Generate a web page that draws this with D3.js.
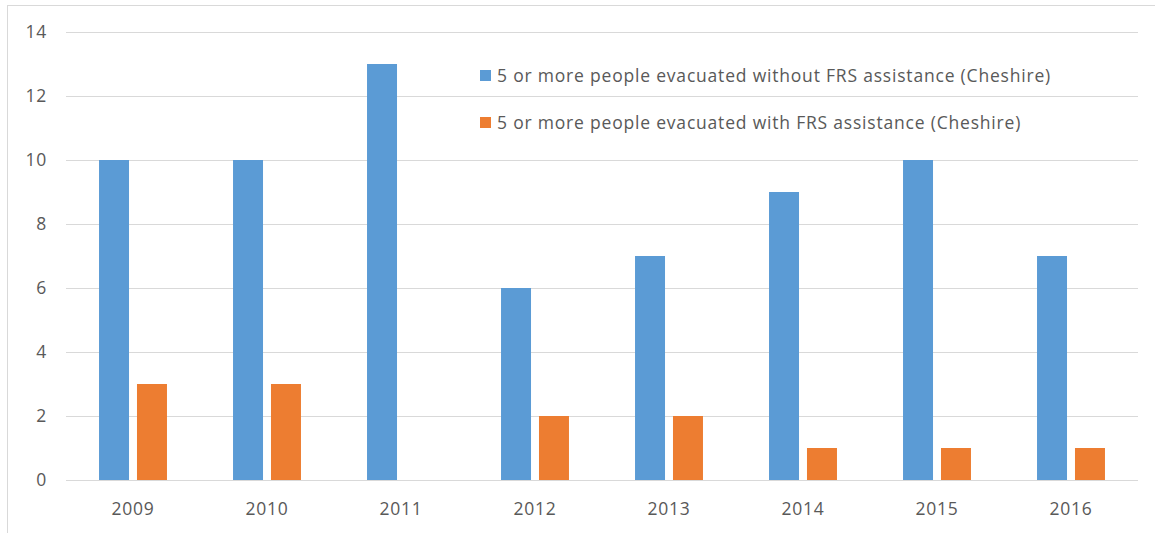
<!DOCTYPE html>
<html>
<head>
<meta charset="utf-8">
<script src="https://cdn.jsdelivr.net/npm/d3@7"></script>
<style>
  body { margin: 0; background: #fff; }
  svg text { font-family: "Open Sans", "Noto Sans", sans-serif; fill: #595959; letter-spacing: 0.8px; }
</style>
</head>
<body>
<svg id="canvas"></svg>
<script>
// Chart data
const years = ["2009", "2010", "2011", "2012", "2013", "2014", "2015", "2016"];
const seriesNames = [
  "5 or more people evacuated without FRS assistance (Cheshire)",
  "5 or more people evacuated with FRS assistance (Cheshire)"
];
const withoutFRS = [10, 10, 13, 6, 7, 9, 10, 7];
const withFRS = [3, 3, 0, 2, 2, 1, 1, 1];
const yTicks = [0, 2, 4, 6, 8, 10, 12, 14];
const colors = ["#5B9BD5", "#ED7D31"];

const svgWidth = 1155;
const svgHeight = 533;
const plotLeft = 66;
const plotRight = 1138;
const plotTop = 32;
const plotBottom = 480;

const svg = d3.select("#canvas")
  .attr("width", svgWidth)
  .attr("height", svgHeight);

// Chart border (right and bottom fall outside the picture)
svg.append("rect")
  .attr("x", 7.5).attr("y", 5.5)
  .attr("width", svgWidth + 20).attr("height", svgHeight + 20)
  .attr("fill", "none")
  .attr("stroke", "#d9d9d9");

// Scales
const xScale = d3.scaleBand()
  .domain(years)
  .range([plotLeft, plotRight]);

const xSub = d3.scaleBand()
  .domain([0, 1])
  .range([0, xScale.bandwidth()])
  .paddingInner(0.21)
  .paddingOuter(0.87);

const yScale = d3.scaleLinear()
  .domain([0, 14])
  .range([plotBottom, plotTop]);

// Gridlines
svg.append("g")
  .selectAll("line")
  .data(yTicks)
  .enter()
  .append("line")
  .attr("x1", plotLeft)
  .attr("x2", plotRight)
  .attr("y1", d => Math.round(yScale(d)) + 0.5)
  .attr("y2", d => Math.round(yScale(d)) + 0.5)
  .attr("stroke", "#d9d9d9")
  .attr("stroke-width", 1);

// Y axis labels
const yAxis = d3.axisLeft(yScale).tickValues(yTicks).tickSize(0).tickPadding(0);
const gY = svg.append("g")
  .attr("transform", `translate(47, 0)`)
  .call(yAxis);
gY.select(".domain").remove();
gY.selectAll("text")
  .style("font-size", "17.5px")
  .attr("fill", "#595959");

// X axis labels
const xAxis = d3.axisBottom(xScale).tickSize(0).tickPadding(0);
const gX = svg.append("g")
  .attr("transform", `translate(0, ${plotBottom + 23})`)
  .call(xAxis);
gX.select(".domain").remove();
gX.selectAll("text")
  .style("font-size", "17.5px")
  .attr("fill", "#595959");

// Bars
const seriesData = [withoutFRS, withFRS];
seriesData.forEach((values, s) => {
  svg.append("g")
    .selectAll("rect")
    .data(values)
    .enter()
    .append("rect")
    .attr("x", (d, i) => xScale(years[i]) + xSub(s))
    .attr("y", d => yScale(d))
    .attr("width", xSub.bandwidth())
    .attr("height", d => yScale(0) - yScale(d))
    .attr("fill", colors[s]);
});

// Legend
const legendX = 480;
const legendRows = [75, 122];
seriesNames.forEach((name, s) => {
  svg.append("rect")
    .attr("x", legendX)
    .attr("y", legendRows[s] - 5)
    .attr("width", 11)
    .attr("height", 11)
    .attr("fill", colors[s]);
  svg.append("text")
    .attr("x", legendX + 17)
    .attr("y", legendRows[s])
    .attr("dominant-baseline", "central")
    .style("font-size", "17.5px")
    .text(name);
});
</script>
</body>
</html>
